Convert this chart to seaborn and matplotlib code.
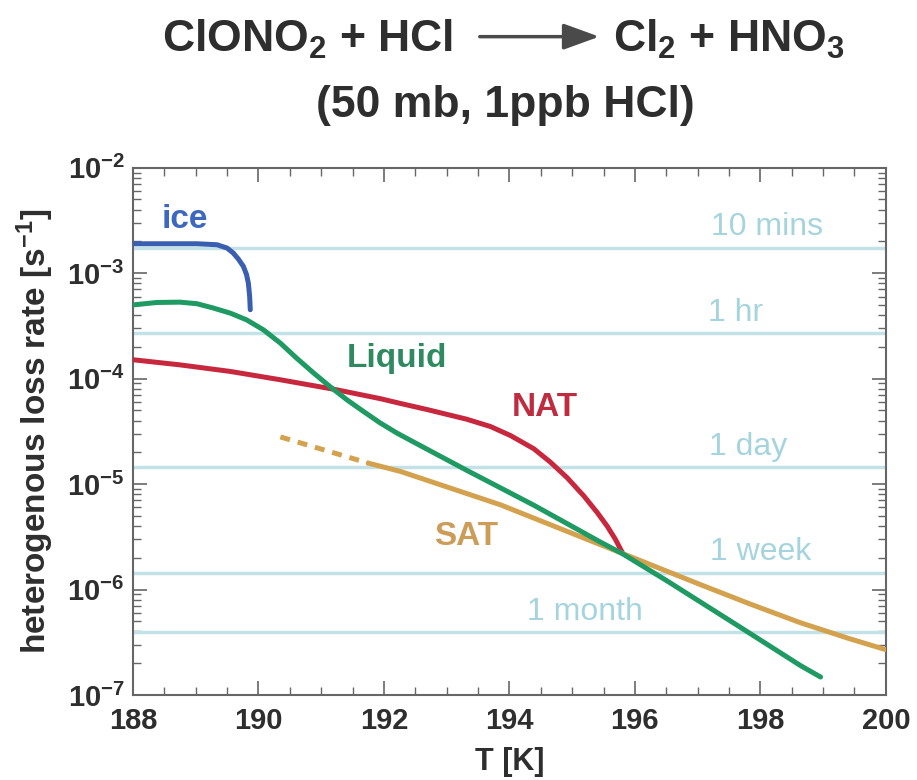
import numpy as np
import pandas as pd
import seaborn as sns
import matplotlib.pyplot as plt
from matplotlib.patches import FancyArrowPatch

############################
# 1. Curve values
############################

# Ice
ice_T = [188.0, 188.6, 189.02, 189.34, 189.50, 189.60, 189.68, 189.76, 189.81,
         189.84, 189.86, 189.87]
ice_k = [1.90e-3, 1.90e-3, 1.90e-3, 1.86e-3, 1.73e-3, 1.55e-3, 1.36e-3, 1.16e-3,
         9.7e-4, 8.0e-4, 6.0e-4, 4.5e-4]

# Liquid (sulfate aerosol)
liq_T = [188.0, 188.38, 188.75, 189.02, 189.28, 189.55, 189.81, 190.08, 190.35,
         190.61, 190.88, 191.14, 191.41, 191.67, 191.94, 192.21, 192.47, 193.32,
         194.39, 195.45, 195.8, 196.52, 197.58, 198.64, 198.96]
liq_k = [5.0e-4, 5.27e-4, 5.31e-4, 5.13e-4, 4.67e-4, 4.18e-4, 3.61e-4, 2.90e-4,
         2.17e-4, 1.56e-4, 1.13e-4, 8.4e-5, 6.3e-5, 4.9e-5, 3.8e-5, 3.04e-5,
         2.51e-5, 1.35e-5, 6.3e-6, 2.82e-6, 2.19e-6, 1.2e-6, 4.79e-7, 1.9e-7,
         1.48e-7]

# NAT
nat_T = [188.0, 188.75, 189.55, 190.35, 191.25, 191.94, 192.26, 192.7, 193.32,
         193.70, 194.02, 194.39, 194.65, 194.92, 195.19, 195.40, 195.56, 195.69,
         195.8]
nat_k = [1.51e-4, 1.35e-4, 1.17e-4, 9.75e-5, 7.83e-5, 6.46e-5, 5.82e-5, 5.07e-5,
         4.12e-5, 3.51e-5, 2.88e-5, 2.16e-5, 1.62e-5, 1.15e-5, 7.67e-6, 5.37e-6,
         3.98e-6, 2.99e-6, 2.24e-6]

# SAT (dashed part is the extrapolation)
sat_dash_T = [190.35, 191.75]
sat_dash_k = [2.8e-5, 1.58e-5]
sat_T = [191.75, 192.26, 193.86, 195.8, 195.93, 197.05, 197.85, 198.64, 199.44, 200.0]
sat_k = [1.58e-5, 1.32e-5, 6.35e-6, 2.2e-6, 2.05e-6, 1.11e-6, 7.24e-7, 4.84e-7,
         3.39e-7, 2.69e-7]

# Reference lifetimes
life_labels = ["10 mins", "1 hr", "1 day", "1 week", "1 month"]
life_rates = [1.75e-3, 2.72e-4, 1.45e-5, 1.45e-6, 3.95e-7]
life_label_T = [198.1, 197.6, 197.8, 198.0, 195.2]

############################
# 2. Style
############################

sns.set_theme(style="ticks")
plt.rcParams["font.family"] = ["Liberation Sans", "DejaVu Sans"]
plt.rcParams["font.weight"] = "bold"
plt.rcParams["axes.labelweight"] = "bold"
plt.rcParams["axes.unicode_minus"] = False
plt.rcParams["mathtext.fontset"] = "custom"
plt.rcParams["mathtext.rm"] = "Liberation Sans:bold"
plt.rcParams["mathtext.it"] = "Liberation Sans:bold:italic"
plt.rcParams["mathtext.bf"] = "Liberation Sans:bold"

c_ice = "#3a5fb0"
c_liq = "#1e9a62"
c_nat = "#c8283e"
c_sat = "#d4a24e"
c_life = "#c3e2e8"
c_life_txt = "#a6d4de"
c_ax = "#666666"
c_txt = "#2e2e2e"

fig = plt.figure(figsize=(9.17, 7.8), dpi=100)
ax = fig.add_axes([0.145, 0.109, 0.821, 0.676])

############################
# 3. Plot
############################

for rate, lab, tx in zip(life_rates, life_labels, life_label_T):
    ax.axhline(rate, color=c_life, lw=2.5, zorder=1)
    ax.text(tx, rate * 1.55, lab, color=c_life_txt, fontsize=23, fontweight="normal",
            ha="center", va="center", zorder=2)

sns.lineplot(x=ice_T, y=ice_k, ax=ax, color=c_ice, lw=3.6, sort=False, zorder=3)
sns.lineplot(x=nat_T, y=nat_k, ax=ax, color=c_nat, lw=3.6, sort=False, zorder=3)
sns.lineplot(x=sat_T, y=sat_k, ax=ax, color=c_sat, lw=3.6, sort=False, zorder=3)
sns.lineplot(x=sat_dash_T, y=sat_dash_k, ax=ax, color=c_sat, lw=3.6, sort=False,
             zorder=3, linestyle=(0, (2.0, 1.6)))
sns.lineplot(x=liq_T, y=liq_k, ax=ax, color=c_liq, lw=3.6, sort=False, zorder=4)

ax.set_yscale("log")
ax.set_xlim(188, 200)
ax.set_ylim(1e-7, 1e-2)

# curve labels
ax.text(188.82, 3.2e-3, "ice", color="#3d68c0", fontsize=24, ha="center", va="center")
ax.text(192.2, 1.55e-4, "Liquid", color="#2f8a62", fontsize=24, ha="center", va="center")
ax.text(194.57, 5.3e-5, "NAT", color="#bf2c40", fontsize=24, ha="center", va="center")
ax.text(193.31, 3.2e-6, "SAT", color="#cc9c58", fontsize=24, ha="center", va="center")

# axes cosmetics
ax.set_xticks([188, 190, 192, 194, 196, 198, 200])
ax.xaxis.set_minor_locator(plt.MultipleLocator(0.5))
ax.tick_params(which="both", direction="in", top=True, right=True, colors=c_ax,
               labelcolor=c_txt)
ax.tick_params(which="major", length=10, width=1.2, labelsize=21)
ax.tick_params(axis="x", which="major", pad=9)
ax.tick_params(axis="y", which="major", pad=6)
ax.tick_params(which="minor", length=6, width=1.0)
for s in ax.spines.values():
    s.set_color(c_ax)
    s.set_linewidth(1.5)

ax.set_xlabel("T [K]", fontsize=22, color=c_txt, labelpad=8)
ax.set_ylabel("heterogenous loss rate [s$^{-1}$]", fontsize=24, color=c_txt, labelpad=8)

############################
# 4. Title with reaction arrow
############################

fig.text(453 / 917, 0.933, "ClONO$_2$ + HCl", ha="right", va="baseline",
         fontsize=32, color=c_txt)
fig.text(613 / 917, 0.933, "Cl$_2$ + HNO$_3$", ha="left", va="baseline",
         fontsize=32, color=c_txt)
fig.text(505 / 917, 0.850, "(50 mb, 1ppb HCl)", ha="center", va="baseline",
         fontsize=32, color=c_txt)
fig.patches.append(FancyArrowPatch(
    (477 / 917, 0.953), (602 / 917, 0.953), transform=fig.transFigure,
    arrowstyle="-|>,head_length=1.1,head_width=0.4", mutation_scale=20,
    color="#4a4a4a", lw=2.5))

fig.savefig("out.png", dpi=100)
